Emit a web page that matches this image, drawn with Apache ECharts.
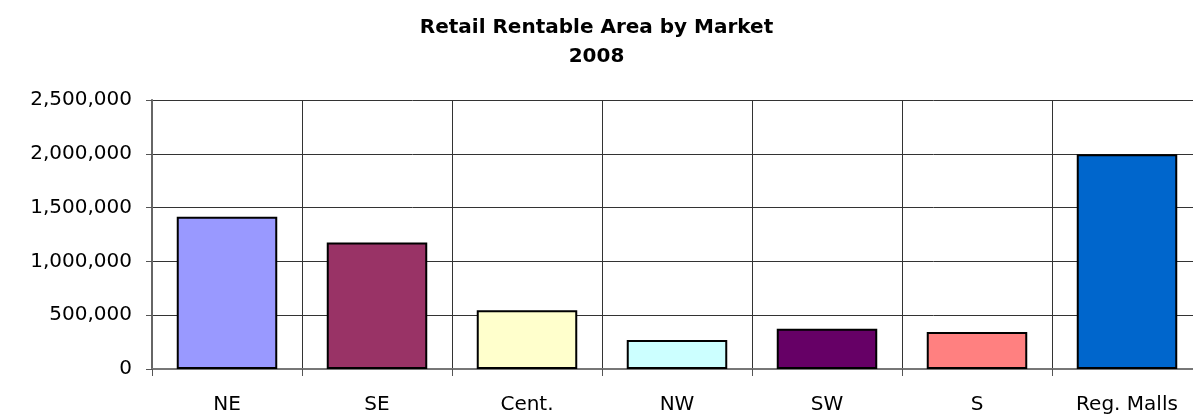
<!DOCTYPE html>
<html>
<head>
<meta charset="utf-8">
<script src="https://cdn.jsdelivr.net/npm/echarts@6/dist/echarts.min.js"></script>
<style>
  html, body { margin: 0; padding: 0; background: #fff; }
  #chart { width: 1193px; height: 415px; }
</style>
</head>
<body>
<div id="chart"></div>
<script>
// markets and rentable area (sq ft)
const markets = ['NE', 'SE', 'Cent.', 'NW', 'SW', 'S', 'Reg. Malls'];
const area = [1415000, 1175000, 545000, 270000, 375000, 345000, 1995000];
const barColors = ['#9999FF', '#993366', '#FFFFCC', '#CCFFFF', '#660066', '#FF8080', '#0066CC'];

const chart = echarts.init(document.getElementById('chart'));
const font = 'DejaVu Sans, Verdana, sans-serif';

chart.setOption({
  animation: false,
  title: {
    text: 'Retail Rentable Area by Market\n2008',
    left: 'center',
    top: 8,
    textStyle: { fontFamily: font, fontSize: 20, fontWeight: 'bold', color: '#000', lineHeight: 29 }
  },
  // plot runs past the right edge of the picture, as in the original
  grid: { left: 152, width: 1050, top: 100, bottom: 46, outerBoundsMode: 'none' },
  xAxis: {
    type: 'category',
    data: markets,
    axisLine: { lineStyle: { color: '#777', width: 2 } },
    axisTick: { show: true, length: 7, lineStyle: { color: '#555' } },
    splitLine: { show: true, lineStyle: { color: '#333', width: 1 } },
    axisLabel: { fontFamily: font, fontSize: 20, color: '#000', margin: 26 }
  },
  yAxis: {
    type: 'value',
    min: 0,
    max: 2500000,
    interval: 500000,
    axisLine: { show: true, lineStyle: { color: '#666', width: 2 } },
    axisTick: { show: true, length: 6, lineStyle: { color: '#555' } },
    splitLine: { lineStyle: { color: '#333', width: 1 } },
    axisLabel: {
      fontFamily: font, fontSize: 20, color: '#000', margin: 20,
      formatter: v => v.toLocaleString('en-US')
    }
  },
  series: [{
    type: 'bar',
    barCategoryGap: '33%',
    data: area.map((v, i) => ({
      value: v,
      itemStyle: { color: barColors[i], borderColor: '#000', borderWidth: 2 }
    }))
  }]
});
</script>
</body>
</html>
